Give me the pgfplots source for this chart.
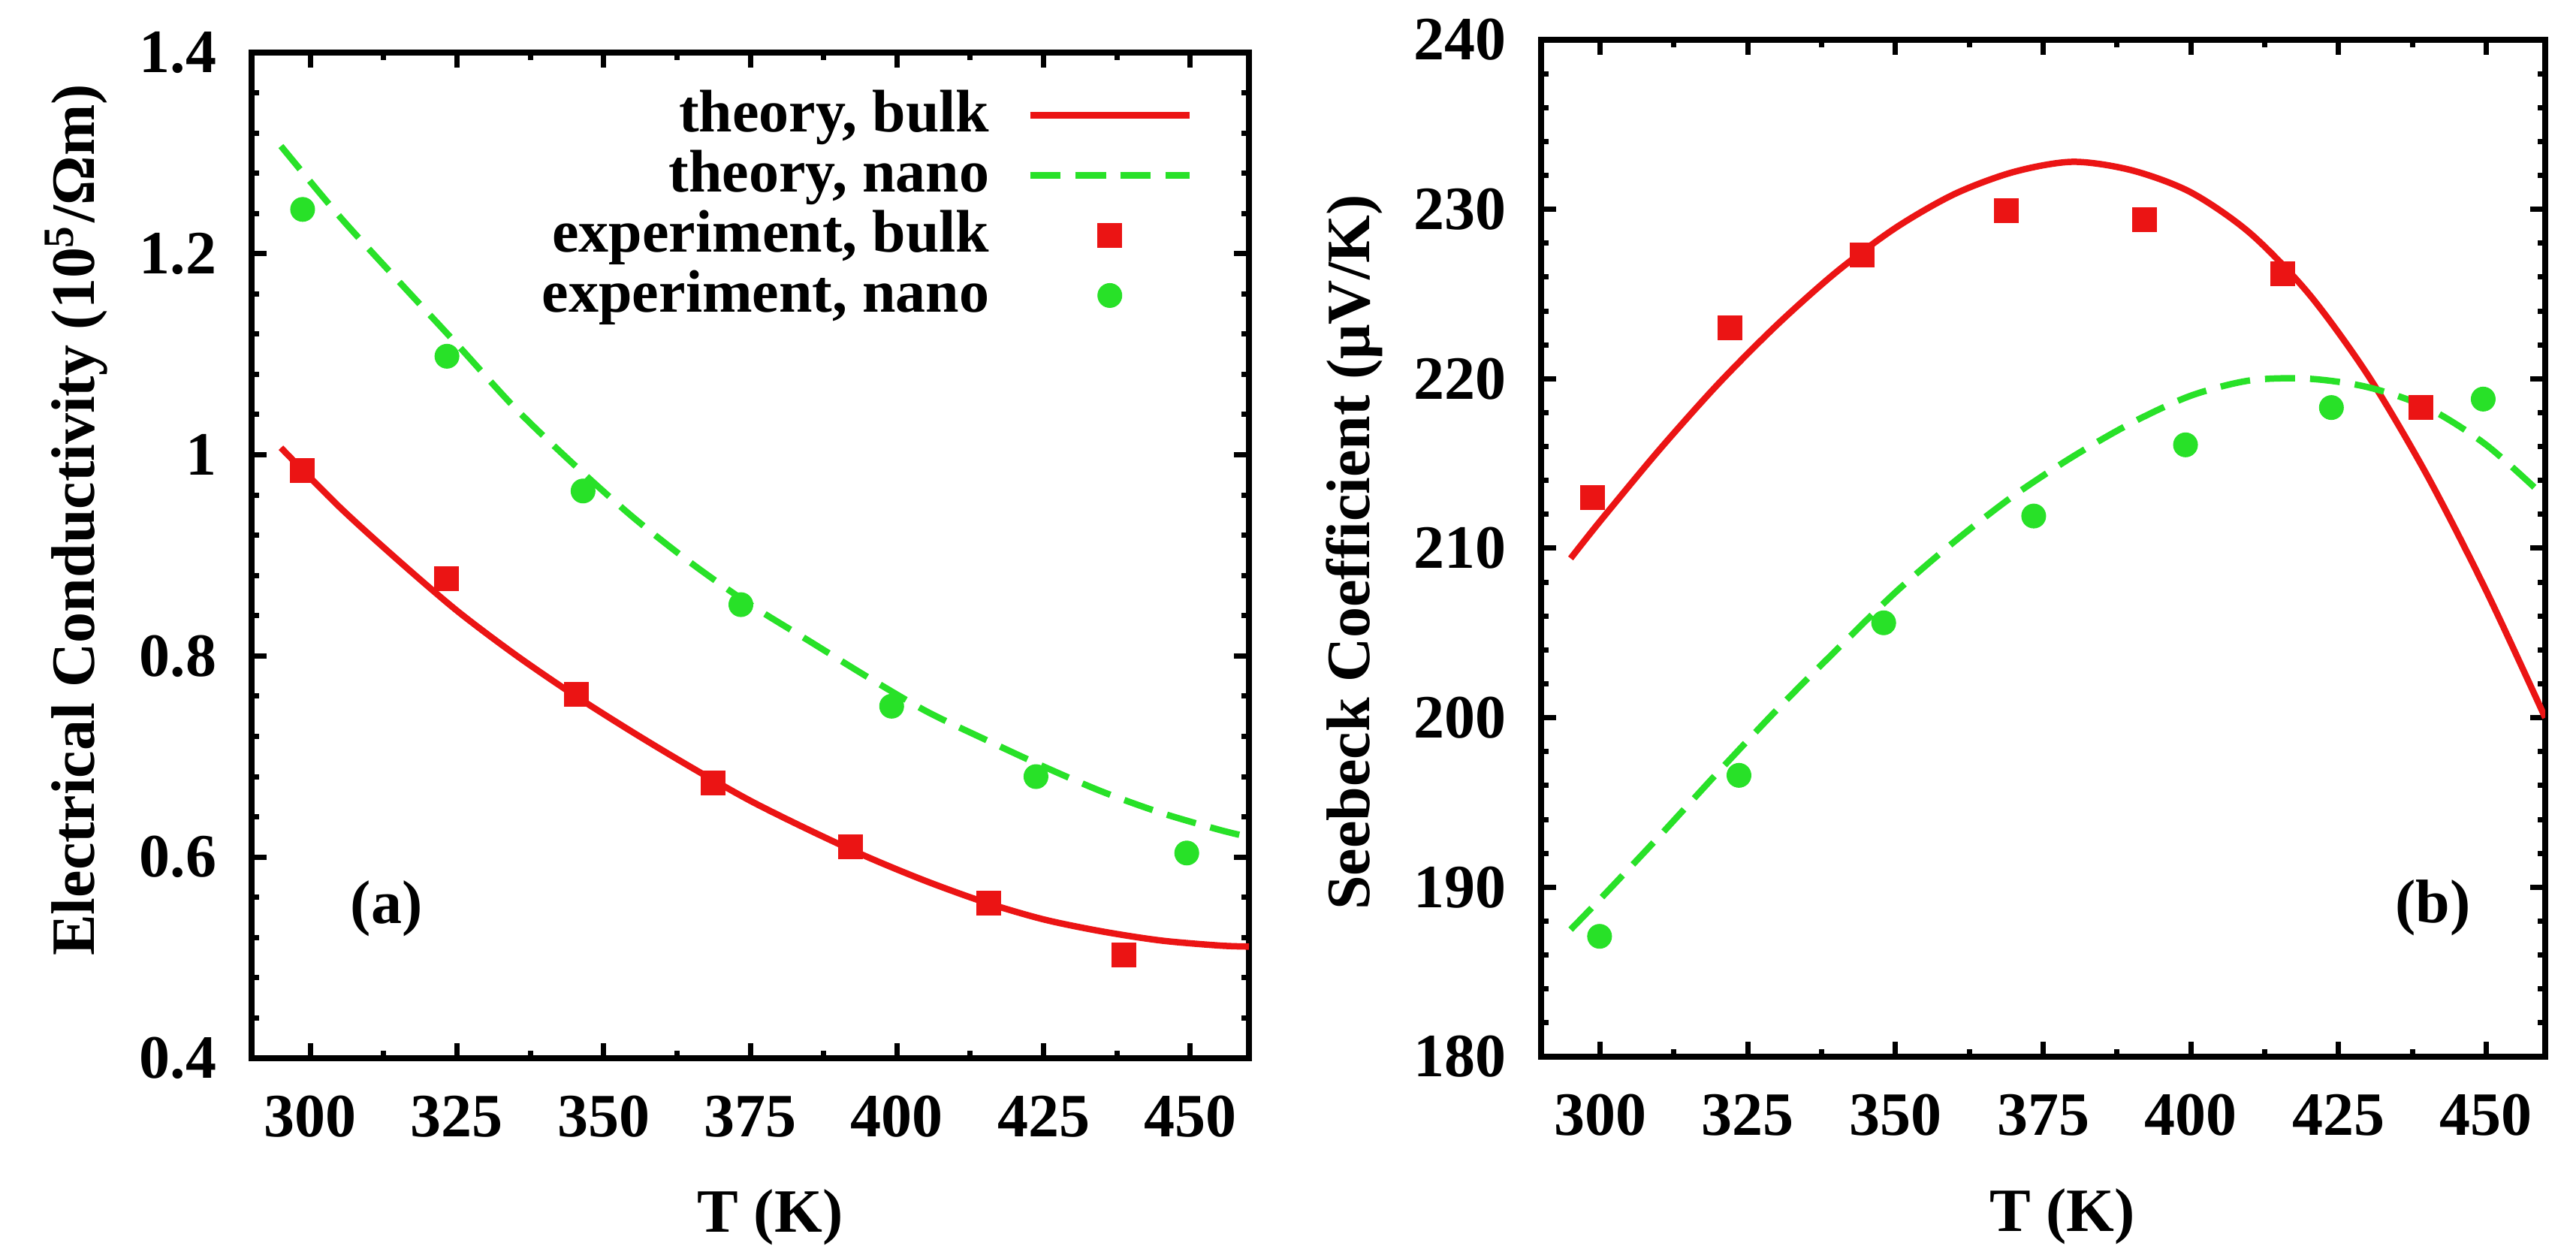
\documentclass[border=0pt]{standalone}
\usepackage{fontspec}
\setmainfont{Liberation Serif}
\usepackage{pgfplots}
\pgfplotsset{compat=1.18}
\definecolor{cred}{RGB}{235,20,20}
\definecolor{cgreen}{RGB}{40,225,40}
\pgfplotsset{
  myax/.style={
    scale only axis,
    anchor=south west,
    font=\fontsize{8.2}{10}\selectfont\bfseries,
    tick align=inside,
    major tick length=2pt, minor tick length=1pt,
    axis line style={line width=0.8pt},
    tick style={line width=0.7pt, black},
    xmin=290, xmax=460,
    xtick={300,325,350,375,400,425,450},
    minor x tick num=1,
    minor y tick num=4,
    /pgf/number format/assume math mode=true,
    xticklabel style={anchor=north, inner sep=0pt, yshift=-4.8pt},
    yticklabel style={anchor=east, inner sep=0pt, xshift=-4.5pt},
    xlabel style={anchor=center},
    ylabel style={anchor=center},
  },
  linelegend/.style={legend image code/.code={\draw[mark repeat=2,mark phase=2,##1] plot coordinates {(0pt,0pt) (10.6pt,0pt) (21.2pt,0pt)};}},
  marklegend/.style={legend image code/.code={\draw[##1] plot coordinates {(10.6pt,0pt)};}},
}
\begin{document}
\begin{tikzpicture}
\useasboundingbox (0,0) rectangle (343pt,167.5pt);
% ---------------- (a) ----------------
\begin{axis}[myax,
  at={(33.5pt,26.6pt)},
  width=132.8pt, height=133.9pt,
  ymin=0.4, ymax=1.4, ytick={0.4,0.6,0.8,1,1.2,1.4},
  xlabel={T (K)},
  ylabel={Electrical Conductivity (10\textsuperscript{5}/Ωm)},
  xlabel style={at={(axis description cs:0.52,-0.158)}},
  ylabel style={at={(axis description cs:-0.176,0.535)}},
  legend cell align=right, legend plot pos=right,
  legend style={draw=none, fill=none, inner sep=0pt, outer sep=0pt,
    font=\fontsize{8.0}{9.6}\selectfont\bfseries,
    at={(1,1)}, anchor=north east, xshift=-7.5pt, yshift=-3.6pt,
    row sep=-1.5pt, column sep=5pt,
    nodes={inner sep=0pt, text height=0.7em, text depth=0.25em}},
]
\addplot[cred, line width=0.85pt, smooth, linelegend] coordinates {
(295,1.007) (305,0.948) (315,0.895) (325,0.845) (335,0.801) (345,0.761)
(355,0.724) (365,0.689) (375,0.656) (385,0.627) (395,0.600) (405,0.576)
(415,0.555) (425,0.538) (435,0.526) (445,0.517) (455,0.512) (460,0.511)};
\addlegendentry{theory, bulk}
\addplot[cgreen, line width=0.85pt, smooth, dash pattern=on 4pt off 2pt, linelegend] coordinates {
(295,1.307) (305,1.237) (315,1.173) (325,1.110) (335,1.046) (345,0.990)
(355,0.938) (365,0.892) (375,0.851) (385,0.815) (395,0.779) (405,0.745)
(415,0.717) (425,0.690) (435,0.665) (445,0.644) (455,0.627) (460,0.620)};
\addlegendentry{theory, nano}
\addplot[only marks, color=cred, mark=square*, mark size=1.6pt, mark options={solid, line width=0.1pt, fill=cred, draw=cred}, marklegend] coordinates {
(298.7,0.984) (323.2,0.877) (345.4,0.762) (368.7,0.674) (392.1,0.610) (415.6,0.554) (438.7,0.503)};
\addlegendentry{experiment, bulk}
\addplot[only marks, color=cgreen, mark=*, mark size=1.6pt, mark options={solid, line width=0.1pt, fill=cgreen, draw=cgreen}, marklegend] coordinates {
(298.7,1.244) (323.3,1.098) (346.5,0.964) (373.4,0.851) (399.1,0.750) (423.7,0.680) (449.4,0.604)};
\addlegendentry{experiment, nano}
\node[font=\fontsize{8.2}{10}\selectfont\bfseries] at (axis cs:313,0.549) {(a)};
\end{axis}
% ---------------- (b) ----------------
\begin{axis}[myax,
  at={(205.2pt,26.8pt)},
  width=133.7pt, height=135.4pt,
  ymin=180, ymax=240, ytick={180,190,200,210,220,230,240},
  xlabel={T (K)},
  ylabel={Seebeck Coefficient (μV/K)},
  xlabel style={at={(axis description cs:0.519,-0.157)}},
  ylabel style={at={(axis description cs:-0.186,0.496)}},
]
\addplot[cred, line width=0.85pt, smooth] coordinates {
(295,209.4) (300,211.6) (310,215.8) (320,219.7) (330,223.2) (340,226.3)
(350,228.9) (360,230.9) (370,232.2) (380,232.8) (390,232.3) (400,231.0)
(410,228.6) (420,225.0) (430,220.2) (440,214.3) (450,207.5) (460,200.0)};
\addplot[cgreen, line width=0.85pt, smooth, dash pattern=on 4pt off 2pt] coordinates {
(295,187.5) (300,189.3) (310,193.0) (320,196.8) (330,200.5) (340,204.0)
(350,207.4) (360,210.4) (370,213.1) (380,215.4) (390,217.4) (400,219.0)
(410,219.9) (420,220.0) (430,219.5) (440,218.3) (450,216.1) (460,213.0)};
\addplot[only marks, color=cred, mark=square*, mark size=1.6pt, mark options={solid, line width=0.1pt, fill=cred, draw=cred}] coordinates {
(298.7,213.0) (322.0,223.0) (344.3,227.3) (368.8,229.9) (392.1,229.4) (415.6,226.2) (438.9,218.3)};
\addplot[only marks, color=cgreen, mark=*, mark size=1.6pt, mark options={solid, line width=0.1pt, fill=cgreen, draw=cgreen}] coordinates {
(299.9,187.1) (323.5,196.6) (348.0,205.6) (373.4,211.9) (399.1,216.1) (423.8,218.3) (449.5,218.8)};
\node[font=\fontsize{8.2}{10}\selectfont\bfseries] at (axis cs:441,188.8) {(b)};
\end{axis}
\end{tikzpicture}
\end{document}
